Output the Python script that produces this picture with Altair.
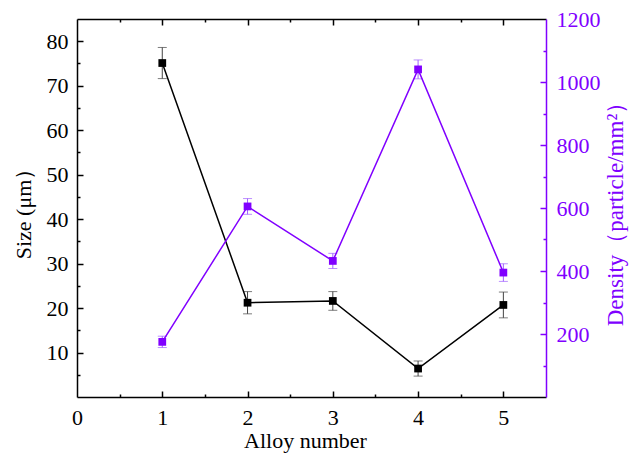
import altair as alt
import pandas as pd

# ---- data ----
alloy = [1, 2, 3, 4, 5]
size_um = [75.1, 21.2, 21.6, 6.4, 20.7]
size_err = [3.5, 2.5, 2.1, 1.7, 2.9]
density = [175, 605, 432, 1040, 395]
density_err = [18, 25, 24, 30, 28]

x_labels = [0, 1, 2, 3, 4, 5]
x_tick_vals = [0.5, 1, 1.5, 2, 2.5, 3, 3.5, 4, 4.5, 5]
size_labels = [10, 20, 30, 40, 50, 60, 70, 80]
size_tick_vals = [5, 10, 15, 20, 25, 30, 35, 40, 45, 50, 55, 60, 65, 70, 75, 80]
dens_labels = [200, 400, 600, 800, 1000, 1200]
dens_tick_vals = [100, 200, 300, 400, 500, 600, 700, 800, 900, 1000, 1100]

BLACK = "#000000"
PURPLE = "#8000ff"
FONT = "Liberation Serif"
LABEL_SIZE = 22
TITLE_SIZE = 22
W, H = 469, 378

size_df = pd.DataFrame({
    "alloy": alloy,
    "size": size_um,
    "lo": [v - e for v, e in zip(size_um, size_err)],
    "hi": [v + e for v, e in zip(size_um, size_err)],
})
dens_df = pd.DataFrame({
    "alloy": alloy,
    "density": density,
    "lo": [v - e for v, e in zip(density, density_err)],
    "hi": [v + e for v, e in zip(density, density_err)],
})

xscale = alt.Scale(domain=[0, 5.5], nice=False, zero=False)
yscale_size = alt.Scale(domain=[0, 85], nice=False, zero=False)
yscale_dens = alt.Scale(domain=[0, 1200], nice=False, zero=False)

def xnone():
    return alt.X("alloy:Q", scale=xscale, axis=None)

# ---- size series (left axis) ----
size_line = alt.Chart(size_df).mark_line(color=BLACK, strokeWidth=1.5).encode(
    x=alt.X("alloy:Q", scale=xscale,
            axis=alt.Axis(orient="bottom", values=x_labels, format="d", title="Alloy number",
                          ticks=False, grid=False, domainColor=BLACK, domainWidth=1.5,
                          labelFont=FONT, labelFontSize=LABEL_SIZE, labelColor=BLACK,
                          labelPadding=10, labelFlush=False, titleFont=FONT,
                          titleFontSize=TITLE_SIZE, titleFontWeight="normal",
                          titleColor=BLACK, titlePadding=2, titleX=228)),
    y=alt.Y("size:Q", scale=yscale_size,
            axis=alt.Axis(orient="left", values=size_labels, format="d", title="Size (μm）",
                          ticks=False, grid=False, domainColor=BLACK, domainWidth=1.5,
                          labelFont=FONT, labelFontSize=LABEL_SIZE, labelColor=BLACK,
                          labelPadding=9, labelFlush=False, titleFont=FONT,
                          titleFontSize=TITLE_SIZE, titleFontWeight="normal",
                          titleColor=BLACK, titlePadding=11)),
)
size_err_bar = alt.Chart(size_df).mark_errorbar(color="#444444", thickness=1,
                                                ticks={"size": 9}).encode(
    x=xnone(),
    y=alt.Y("lo:Q", scale=yscale_size, axis=None),
    y2="hi:Q",
)
size_pts = alt.Chart(size_df).mark_point(shape="square", filled=True, size=60,
                                         color=BLACK, opacity=1).encode(
    x=xnone(),
    y=alt.Y("size:Q", scale=yscale_size, axis=None),
)

# ---- density series (right axis) ----
dens_line = alt.Chart(dens_df).mark_line(color=PURPLE, strokeWidth=1.5).encode(
    x=xnone(),
    y=alt.Y("density:Q", scale=yscale_dens,
            axis=alt.Axis(orient="right", values=dens_labels, format="d",
                          title="Density（particle/mm²）",
                          ticks=False, grid=False, domainColor=PURPLE, domainWidth=1.5,
                          labelFont=FONT, labelFontSize=LABEL_SIZE, labelColor=PURPLE,
                          labelPadding=10, labelFlush=False, titleFont=FONT,
                          titleFontSize=23, titleFontWeight="normal",
                          titleColor=PURPLE, titlePadding=27, titleAngle=270)),
)
dens_err_bar = alt.Chart(dens_df).mark_errorbar(color="#a060ff", thickness=1,
                                                ticks={"size": 9}).encode(
    x=xnone(),
    y=alt.Y("lo:Q", scale=yscale_dens, axis=None),
    y2="hi:Q",
)
dens_pts = alt.Chart(dens_df).mark_point(shape="square", filled=True, size=60,
                                         color=PURPLE, opacity=1).encode(
    x=xnone(),
    y=alt.Y("density:Q", scale=yscale_dens, axis=None),
)

# ---- inward ticks: left (black) + bottom ----
x_tick_size = {"condition": {"test": "datum.value % 1 === 0", "value": 6}, "value": 3}
ticks_left = alt.Chart(size_df).mark_point(opacity=0).encode(
    x=alt.X("alloy:Q", scale=xscale,
            axis=alt.Axis(orient="top", offset=-H, values=x_tick_vals, labels=False,
                          domain=False, grid=False, title=None, tickColor=BLACK,
                          tickWidth=1.5, tickSize=x_tick_size)),
    y=alt.Y("size:Q", scale=yscale_size,
            axis=alt.Axis(orient="right", offset=-W, values=size_tick_vals, labels=False,
                          domain=False, grid=False, title=None, tickColor=BLACK, tickWidth=1.5,
                          tickSize={"condition": {"test": "datum.value % 10 === 0", "value": 6},
                                    "value": 3})),
)

# ---- inward ticks: right (purple) + top border ----
ticks_right = alt.Chart(dens_df).mark_point(opacity=0).encode(
    x=alt.X("alloy:Q", scale=xscale,
            axis=alt.Axis(orient="bottom", offset=-H, values=x_tick_vals, labels=False,
                          domain=True, domainColor=BLACK, domainWidth=1.5, grid=False,
                          title=None, tickColor=BLACK, tickWidth=1.5, tickSize=x_tick_size)),
    y=alt.Y("density:Q", scale=yscale_dens,
            axis=alt.Axis(orient="left", offset=-W, values=dens_tick_vals, labels=False,
                          domain=False, grid=False, title=None, tickColor=PURPLE, tickWidth=1.5,
                          tickSize={"condition": {"test": "datum.value % 200 === 0", "value": 6},
                                    "value": 3})),
)

chart = alt.layer(
    ticks_left, ticks_right,
    size_err_bar, size_line, size_pts,
    dens_err_bar, dens_line, dens_pts,
).resolve_scale(
    y="independent"
).resolve_axis(
    x="independent", y="independent"
).properties(
    width=W, height=H,
    autosize=alt.AutoSizeParams(type="none"),
    padding={"left": 77, "top": 19, "right": 97, "bottom": 57},
    background="white",
).configure_view(stroke=None)

chart.save("out.html", embed_options={"renderer": "svg", "actions": False})
